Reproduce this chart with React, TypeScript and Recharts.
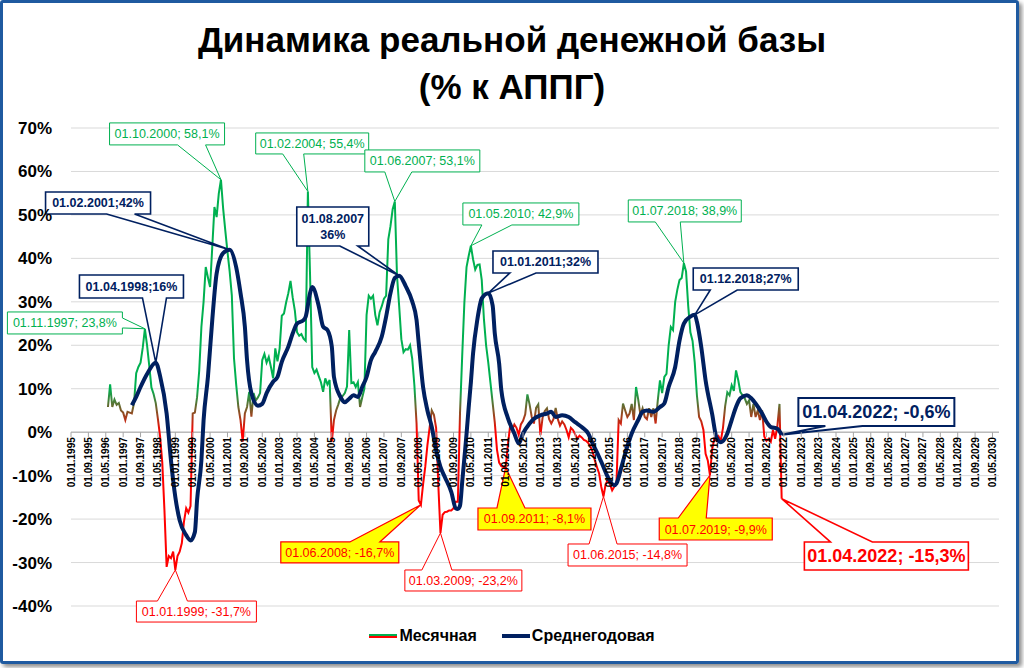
import React from 'react';
import {
  LineChart,
  Line,
  XAxis,
  YAxis,
  CartesianGrid,
  ReferenceLine,
  ReferenceDot,
} from 'recharts';

// axis range: monthly categories from 01.1995 to 08.2030
const axisStartYear = 1995;
const axisMonths = 428;
const yTicks = [-40, -30, -20, -10, 0, 10, 20, 30, 40, 50, 60, 70];

// monthly real money base, % y/y (series starts 06.1996)
const monthlyStart = '1996-06';
const m1996 = [5.8, 11.0, 5.8, 7.5, 6.3, 6.7, 5.0];
const m1997 = [4.5, 2.8, 4.7, 4.5, 4.3, 6.7, 13.6, 15.0, 16.0, 19.4, 23.8, 20.0];
const m1998 = [15.3, 10.3, 8.8, 6.7, 3.0, -1.0, -7.0, -18.0, -31.0, -28.5, -29.0, -27.5];
const m1999 = [-31.7, -28.5, -27.5, -25.5, -20.5, -17.5, -18.5, -17.0, 4.3, 4.5, 8.0, 14.2];
const m2000 = [24.2, 30.0, 38.0, 35.6, 33.4, 42.6, 51.8, 49.5, 54.9, 58.1, 51.5, 46.4];
const m2001 = [41.5, 37.0, 31.5, 17.0, 11.0, 5.8, 2.8, -2.2, 4.3, 5.8, 9.3, 3.6];
const m2002 = [9.0, 7.3, 8.0, 9.0, 16.6, 18.0, 16.0, 17.3, 15.0, 12.4, 19.3, 16.3];
const m2003 = [19.3, 26.8, 27.3, 29.9, 32.0, 34.8, 31.0, 28.0, 23.0, 22.2, 22.6, 21.5];
const m2004 = [21.0, 55.4, 36.0, 15.0, 13.6, 14.4, 12.9, 11.5, 9.3, 12.4, 11.0, 12.0];
const m2005 = [-2.2, 2.8, 5.0, 6.4, 8.0, 8.3, 9.0, 10.5, 23.5, 11.3, 11.5, 10.4];
const m2006 = [11.5, 5.8, 8.0, 10.0, 27.0, 31.4, 30.7, 31.4, 27.0, 24.6, 27.6, 29.0];
const m2007 = [30.7, 31.4, 44.4, 47.4, 51.3, 53.1, 36.0, 29.0, 21.4, 18.4, 19.1, 19.0];
const m2008 = [20.0, 16.9, 10.8, 2.0, -15.7, -16.7, -12.0, -8.0, -3.0, 1.0, 5.0, 4.0];
const m2009 = [1.0, -12.0, -23.2, -19.0, -18.4, -18.3, -18.0, -18.0, -17.5, -16.0, -16.0, 4.5];
const m2010 = [17.5, 29.8, 38.0, 40.6, 42.9, 39.8, 37.4, 38.5, 38.6, 35.0, 26.0, 20.0];
const m2011 = [16.0, 11.4, 6.8, 2.2, -4.0, -7.0, -7.8, -8.0, -8.1, -3.0, 1.2, 0.5];
const m2012 = [1.8, 1.0, -0.6, 1.8, 2.6, 4.1, 8.7, 6.4, 3.5, 2.0, 5.6, 6.4];
const m2013 = [-0.7, 3.4, 4.9, 5.5, 3.0, 2.0, 3.0, 5.6, 3.0, 1.5, 2.5, 1.8];
const m2014 = [0.5, -1.2, 1.0, 0.5, -0.5, -1.5, -0.8, -1.2, -1.8, -2.0, -2.5, -3.3];
const m2015 = [-4.5, -6.4, -8.0, -9.5, -12.6, -14.8, -12.0, -11.0, -12.0, -13.4, -12.5, -11.5];
const m2016 = [2.8, 2.0, 6.6, 5.0, 3.5, 4.3, 6.5, 2.8, 10.4, 7.5, 4.0, 5.5];
const m2017 = [3.5, 3.0, 5.5, 3.5, 5.5, 2.0, 7.3, 11.9, 9.0, 12.7, 13.4, 20.0];
const m2018 = [24.2, 23.5, 30.0, 32.8, 35.0, 35.5, 38.9, 37.0, 29.0, 23.0, 21.0, 16.0];
const m2019 = [8.5, 3.5, 2.5, 0.5, -5.0, -6.5, -9.9, -4.0, -1.5, -2.0, -1.0, -2.0];
const m2020 = [1.0, 6.0, 9.2, 8.5, 10.8, 9.5, 14.2, 12.0, 9.2, 8.5, 7.8, 6.5];
const m2021 = [7.3, 3.5, 6.5, 3.5, 5.0, 2.8, 5.0, -1.0, -2.0, -1.5, -2.2, 0.5];
const m2022 = [-1.5, 1.3, 6.5, -15.3];

// average over the year
const yearlyAvg: [string, number][] = [
  ['1997-05', 6.2], ['1997-07', 8.1], ['1997-09', 10.4], ['1997-12', 13.4],
  ['1998-04', 16.0], ['1998-06', 12.9], ['1998-09', 4.3], ['1998-11', -6.5],
  ['1999-01', -14.9], ['1999-03', -20.3], ['1999-06', -23.7], ['1999-08', -24.9],
  ['1999-10', -23.0], ['1999-11', -15.7], ['2000-01', -6.5], ['2000-02', 2.7],
  ['2000-04', 12.7], ['2000-06', 25.8], ['2000-08', 36.5], ['2000-11', 41.2],
  ['2001-02', 42.0], ['2001-05', 38.0], ['2001-07', 32.0], ['2001-09', 24.3],
  ['2001-10', 16.6], ['2001-12', 9.0], ['2002-03', 6.1], ['2002-05', 6.5],
  ['2002-07', 9.0], ['2002-10', 11.6], ['2002-12', 12.7], ['2003-02', 16.2],
  ['2003-05', 19.7], ['2003-07', 22.7], ['2003-09', 25.0], ['2003-12', 25.8],
  ['2004-01', 26.6], ['2004-03', 32.0], ['2004-04', 33.4], ['2004-07', 29.0],
  ['2004-09', 24.3], ['2004-11', 23.5], ['2005-01', 19.7], ['2005-02', 12.7],
  ['2005-05', 8.1], ['2005-07', 6.9], ['2005-09', 7.7], ['2005-11', 8.5],
  ['2006-01', 8.1], ['2006-03', 10.4], ['2006-05', 12.7], ['2006-07', 16.6],
  ['2006-09', 18.5], ['2006-12', 22.0], ['2007-02', 26.6], ['2007-04', 32.0],
  ['2007-06', 35.5], ['2007-08', 36.0], ['2007-11', 33.6], ['2008-02', 30.1],
  ['2008-04', 25.8], ['2008-05', 20.5], ['2008-07', 10.4], ['2008-09', 5.0],
  ['2008-11', 1.2], ['2009-01', -4.2], ['2009-03', -8.0], ['2009-05', -10.3],
  ['2009-08', -13.8], ['2009-10', -17.5], ['2009-11', -17.7], ['2009-12', -16.9],
  ['2010-01', -11.5], ['2010-02', -6.0], ['2010-03', -0.4], ['2010-04', 5.8],
  ['2010-05', 11.5], ['2010-06', 18.1], ['2010-08', 26.0], ['2010-10', 30.8],
  ['2011-01', 32.0], ['2011-03', 29.2], ['2011-04', 22.7], ['2011-06', 15.8],
  ['2011-07', 9.7], ['2011-10', 3.3], ['2012-01', -0.3], ['2012-03', -2.6],
  ['2012-05', -0.3], ['2012-08', 2.0], ['2012-10', 3.1], ['2013-01', 3.9],
  ['2013-04', 4.3], ['2013-06', 4.7], ['2013-08', 3.5], ['2013-11', 3.9],
  ['2014-02', 3.5], ['2014-05', 2.3], ['2014-08', 1.2], ['2014-11', -0.3],
  ['2015-01', -2.6], ['2015-04', -5.7], ['2015-06', -8.0], ['2015-08', -10.3],
  ['2015-11', -12.2], ['2015-12', -11.8], ['2016-02', -8.5], ['2016-04', -4.9],
  ['2016-07', -0.3], ['2016-10', 2.8], ['2016-12', 4.7], ['2017-02', 5.0],
  ['2017-05', 4.7], ['2017-08', 5.8], ['2017-10', 6.6], ['2017-12', 10.4],
  ['2018-03', 15.0], ['2018-05', 21.1], ['2018-07', 25.0], ['2018-10', 26.6],
  ['2018-12', 27.0], ['2019-01', 25.4], ['2019-03', 19.6], ['2019-05', 11.9],
  ['2019-08', 4.2], ['2019-10', -1.2], ['2019-12', -2.3], ['2020-03', -0.3],
  ['2020-05', 2.8], ['2020-07', 5.8], ['2020-09', 7.8], ['2020-12', 8.5],
  ['2021-02', 7.8], ['2021-04', 6.6], ['2021-07', 4.3], ['2021-09', 2.4],
  ['2021-11', 1.2], ['2022-02', 0.8], ['2022-04', -0.6],
];

// callout labels
const callouts = [
  { d: '1997-11', v: 23.8, text: ['01.11.1997; 23,8%'], kind: 'green' },
  { d: '1998-04', v: 16, text: ['01.04.1998;16%'], kind: 'navy' },
  { d: '2000-10', v: 58.1, text: ['01.10.2000; 58,1%'], kind: 'green' },
  { d: '2001-02', v: 42, text: ['01.02.2001;42%'], kind: 'navy' },
  { d: '2004-02', v: 55.4, text: ['01.02.2004; 55,4%'], kind: 'green' },
  { d: '2007-06', v: 53.1, text: ['01.06.2007; 53,1%'], kind: 'green' },
  { d: '2007-08', v: 36, text: ['01.08.2007', '36%'], kind: 'navy' },
  { d: '2010-05', v: 42.9, text: ['01.05.2010; 42,9%'], kind: 'green' },
  { d: '2011-01', v: 32, text: ['01.01.2011;32%'], kind: 'navy' },
  { d: '2018-07', v: 38.9, text: ['01.07.2018; 38,9%'], kind: 'green' },
  { d: '2018-12', v: 27, text: ['01.12.2018;27%'], kind: 'navy' },
  { d: '2022-04', v: -0.6, text: ['01.04.2022; -0,6%'], kind: 'navyBig' },
  { d: '1999-01', v: -31.7, text: ['01.01.1999; -31,7%'], kind: 'red' },
  { d: '2008-06', v: -16.7, text: ['01.06.2008; -16,7%'], kind: 'yellow' },
  { d: '2009-03', v: -23.2, text: ['01.03.2009; -23,2%'], kind: 'red' },
  { d: '2011-09', v: -8.1, text: ['01.09.2011; -8,1%'], kind: 'yellow' },
  { d: '2015-06', v: -14.8, text: ['01.06.2015; -14,8%'], kind: 'red' },
  { d: '2019-07', v: -9.9, text: ['01.07.2019; -9,9%'], kind: 'yellow' },
  { d: '2022-04', v: -15.3, text: ['01.04.2022; -15,3%'], kind: 'redBig' },
];

// callout box placement relative to the point: [dx, dy, w, h], pointer base along an edge
const calloutLayout = [
  { box: [-137.5, -16.8, 115, 22], edge: 'right', base: [6, 16] },
  { box: [-76.3, -87.7, 104, 23], edge: 'bottom', base: [63, 87] },
  { box: [-111.4, -56.8, 115, 22], edge: 'bottom', base: [68, 96] },
  { box: [-184.1, -57.7, 105, 22], edge: 'bottom', base: [61, 89] },
  { box: [-52.2, -58.5, 113, 21], edge: 'bottom', base: [27, 48] },
  { box: [-30, -51.5, 115, 22], edge: 'bottom', base: [20, 47] },
  { box: [-102.4, -68.8, 72, 39], edge: 'bottom', base: [43, 61] },
  { box: [-8, -42.8, 116, 22], edge: 'bottom', base: [19, 49] },
  { box: [4.7, -42.2, 105, 22], edge: 'bottom', base: [17, 43] },
  { box: [-55.6, -63.2, 113, 22], edge: 'bottom', base: [27, 52] },
  { box: [-1.5, -46.9, 105, 22], edge: 'bottom', base: [17, 44] },
  { box: [16.7, -36.8, 156, 28], edge: 'bottom', base: [27, 64] },
  { box: [-38.9, 31.1, 120, 21], edge: 'top', base: [21, 51] },
  { box: [-140.1, 37.2, 118, 21], edge: 'top', base: [69, 99] },
  { box: [-35.6, 37, 117, 21], edge: 'top', base: [17, 47] },
  { box: [-27.7, 40.6, 113, 22], edge: 'top', base: [19, 47] },
  { box: [-35.4, 47.5, 119, 22], edge: 'top', base: [21, 49] },
  { box: [-50.7, 42.8, 113, 22], edge: 'top', base: [19, 47] },
  { box: [22.7, 43.3, 164, 28], edge: 'top', base: [26, 68] },
];

const FONT = '"Liberation Sans", Arial, sans-serif';
const GREEN = '#00b050';
const RED = '#ff0000';
const NAVY = '#002060';

const W = 1024;
const H = 668;
const MARGIN = { top: 128, right: 25, bottom: 61, left: 0 };
const X_AXIS_H = 1;
const Y_MIN = -40;
const Y_MAX = 70;
const PLOT_H = H - MARGIN.top - MARGIN.bottom - X_AXIS_H;
const ZERO_Y = MARGIN.top + (PLOT_H * Y_MAX) / (Y_MAX - Y_MIN);

const kindStyle: Record<string, any> = {
  green: { color: GREEN, fill: '#fff', sw: 1, size: 12.5, weight: 'normal' },
  navy: { color: NAVY, fill: '#fff', sw: 1.6, size: 12.5, weight: 'bold' },
  navyBig: { color: NAVY, fill: '#fff', sw: 2, size: 18, weight: 'bold' },
  red: { color: RED, fill: '#fff', sw: 1, size: 12.5, weight: 'normal' },
  yellow: { color: RED, fill: '#ffff00', sw: 1.2, size: 12.5, weight: 'normal' },
  redBig: { color: RED, fill: '#fff', sw: 1.6, size: 18, weight: 'bold' },
};

const monthKey = (i: number) => {
  const y = axisStartYear + Math.floor(i / 12);
  const m = (i % 12) + 1;
  return `${y}-${m < 10 ? '0' + m : m}`;
};

const monthlyValues = [
  ...m1996, ...m1997, ...m1998, ...m1999, ...m2000, ...m2001, ...m2002, ...m2003,
  ...m2004, ...m2005, ...m2006, ...m2007, ...m2008, ...m2009, ...m2010, ...m2011,
  ...m2012, ...m2013, ...m2014, ...m2015, ...m2016, ...m2017, ...m2018, ...m2019,
  ...m2020, ...m2021, ...m2022,
];

const avgMap = new Map(yearlyAvg);
const startIdx = (() => {
  for (let i = 0; i < axisMonths; i++) if (monthKey(i) === monthlyStart) return i;
  return 0;
})();

const data = Array.from({ length: axisMonths }, (_, i) => {
  const d = monthKey(i);
  const k = i - startIdx;
  return {
    d,
    m: k >= 0 && k < monthlyValues.length ? monthlyValues[k] : null,
    a: avgMap.has(d) ? avgMap.get(d) : null,
  };
});

// gradient stops: green above ~10%, fading to red at zero
const mMax = Math.max(...monthlyValues);
const mMin = Math.min(...monthlyValues);
const offAt = (v: number) => (mMax - v) / (mMax - mMin);

const fmtDate = (d: string) => `01.${d.slice(5, 7)}.${d.slice(0, 4)}`;

const XTick = (props: any) => {
  const { x, payload } = props;
  return (
    <g>
      <line x1={x} x2={x} y1={ZERO_Y} y2={ZERO_Y + 5} stroke="#a6a6a6" />
      <text
        transform={`translate(${x + 3.5},${ZERO_Y + 5}) rotate(-90)`}
        textAnchor="end"
        fontSize={10}
        fontWeight="bold"
        fontFamily={FONT}
        fill="#000"
      >
        {fmtDate(payload.value)}
      </text>
    </g>
  );
};

const outlinePath = (cx: number, cy: number, lay: any) => {
  const [dx, dy, w, h] = lay.box;
  const L = cx + dx;
  const T = cy + dy;
  const R = L + w;
  const B = T + h;
  const [p, q] = lay.base;
  let pts: number[][];
  if (lay.edge === 'bottom') {
    pts = [[L + p, B], [cx, cy], [L + q, B], [R, B], [R, T], [L, T], [L, B]];
  } else if (lay.edge === 'top') {
    pts = [[L + p, T], [cx, cy], [L + q, T], [R, T], [R, B], [L, B], [L, T]];
  } else {
    pts = [[R, T + p], [cx, cy], [R, T + q], [R, B], [L, B], [L, T], [R, T]];
  }
  return 'M' + pts.map((pt) => `${pt[0]},${pt[1]}`).join(' L') + ' Z';
};

const Callout = ({ cx, cy, idx }: { cx: number; cy: number; idx: number }) => {
  const note = callouts[idx];
  const lay = calloutLayout[idx];
  const st = kindStyle[note.kind];
  const [dx, dy, w, h] = lay.box;
  const L = cx + dx;
  const T = cy + dy;
  const filled = note.kind === 'yellow';
  const lineH = st.size * 1.25;
  const firstY = T + h / 2 - ((note.text.length - 1) * lineH) / 2;
  return (
    <g>
      {!filled && <rect x={L} y={T} width={w} height={h} fill={st.fill} />}
      <path
        d={outlinePath(cx, cy, lay)}
        fill={filled ? st.fill : 'none'}
        stroke={st.color}
        strokeWidth={st.sw}
        strokeLinejoin="miter"
      />
      {note.text.map((t, i) => (
        <text
          key={i}
          x={L + w / 2}
          y={firstY + i * lineH}
          dy="0.36em"
          textAnchor="middle"
          fontSize={st.size}
          fontWeight={st.weight}
          fontFamily={FONT}
          fill={st.color}
        >
          {t}
        </text>
      ))}
    </g>
  );
};

export default function App() {
  return (
    <div style={{ position: 'relative', width: W, height: H, background: '#fff', fontFamily: FONT }}>
      <style>{'body{margin:0}'}</style>
      <div
        style={{
          position: 'absolute',
          left: 0,
          top: 0,
          width: 1013,
          height: 658,
          border: '3px solid #1f5aa0',
          borderRadius: 3,
          boxShadow: '3px 3px 4px rgba(0,0,0,0.45)',
        }}
      />
      <div
        style={{
          position: 'absolute',
          left: 0,
          top: 16,
          width: W,
          textAlign: 'center',
          fontWeight: 'bold',
          fontSize: 35,
          lineHeight: '47px',
          color: '#000',
        }}
      >
        <div>Динамика реальной денежной базы</div>
        <div>(% к АППГ)</div>
      </div>
      <div style={{ position: 'absolute', left: 0, top: 0 }}>
        <LineChart width={W} height={H} data={data} margin={MARGIN}>
          <defs>
            <linearGradient id="monthGrad" x1="0" y1="0" x2="0" y2="1">
              <stop offset={0} stopColor={GREEN} />
              <stop offset={offAt(10)} stopColor={GREEN} />
              <stop offset={offAt(0)} stopColor={RED} />
              <stop offset={1} stopColor={RED} />
            </linearGradient>
          </defs>
          <CartesianGrid vertical={false} stroke="#d9d9d9" />
          <XAxis
            dataKey="d"
            interval={7}
            height={X_AXIS_H}
            axisLine={false}
            tickLine={false}
            tick={<XTick />}
          />
          <YAxis
            domain={[Y_MIN, Y_MAX]}
            ticks={yTicks}
            width={71}
            axisLine={false}
            tickLine={false}
            tickMargin={13}
            tickFormatter={(v: number) => `${v}%`}
            tick={{ fontSize: 17, fontWeight: 'bold', fill: '#000', fontFamily: FONT }}
          />
          <ReferenceLine y={0} stroke="#a6a6a6" />
          <Line
            dataKey="m"
            stroke="url(#monthGrad)"
            strokeWidth={2}
            dot={false}
            activeDot={false}
            isAnimationActive={false}
          />
          <Line
            dataKey="a"
            type="monotone"
            stroke={NAVY}
            strokeWidth={4}
            dot={false}
            activeDot={false}
            connectNulls
            isAnimationActive={false}
          />
          {callouts.map((c, i) => (
            <ReferenceDot
              key={i}
              x={c.d}
              y={c.v}
              r={0}
              ifOverflow="visible"
              shape={(p: any) => <Callout cx={p.cx} cy={p.cy} idx={i} />}
            />
          ))}
        </LineChart>
      </div>
      <div
        style={{
          position: 'absolute',
          left: 0,
          top: 627,
          width: W,
          display: 'flex',
          justifyContent: 'center',
          alignItems: 'center',
          fontSize: 16,
          fontWeight: 'bold',
          color: '#000',
        }}
      >
        <span style={{ display: 'inline-block', width: 28, marginRight: 2 }}>
          <span style={{ display: 'block', height: 2, background: GREEN }} />
          <span style={{ display: 'block', height: 2, background: RED }} />
        </span>
        <span style={{ marginRight: 25 }}>Месячная</span>
        <span style={{ display: 'inline-block', width: 28, height: 4, background: NAVY, marginRight: 2 }} />
        <span>Среднегодовая</span>
      </div>
    </div>
  );
}
